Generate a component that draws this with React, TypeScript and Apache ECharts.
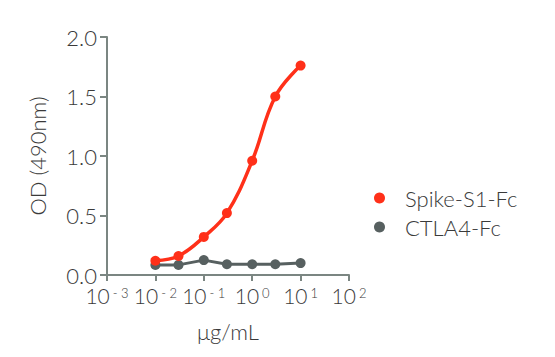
import React, { useEffect, useRef } from "react";
import * as echarts from "echarts";

const concentrations = [0.01, 0.03, 0.1, 0.3, 1, 3, 10];
const spikeValues = [0.12, 0.16, 0.32, 0.52, 0.96, 1.5, 1.76];
const ctla4Values = [0.085, 0.085, 0.125, 0.09, 0.09, 0.09, 0.1];
const seriesNames = ["Spike-S1-Fc", "CTLA4-Fc"];
const yTicks = [0, 0.5, 1.0, 1.5, 2.0];

const FONT = "Lato";
const W = 300;
const AXIS = "#7b8682";
const TEXT = "#3a3a3a";

export default function App() {
  const ref = useRef<HTMLDivElement>(null);
  useEffect(() => {
    if (!ref.current) return;
    const chart = echarts.init(ref.current, undefined, { renderer: "svg" });
    chart.setOption({
      animation: false,
      textStyle: { fontFamily: FONT, fontWeight: W },
      grid: { left: 107, right: 206, top: 37, bottom: 82 },
      legend: {
        orient: "vertical",
        left: 369,
        top: 182,
        icon: "circle",
        itemWidth: 11,
        itemHeight: 11,
        itemGap: 7,
        textStyle: { fontFamily: FONT, fontWeight: W, fontSize: 22, color: TEXT, padding: [0, 0, 0, 15] },
        data: seriesNames,
      },
      xAxis: {
        type: "log",
        logBase: 10,
        min: 0.001,
        max: 100,
        name: "μg/mL",
        nameLocation: "middle",
        nameGap: 45,
        nameTextStyle: { fontFamily: FONT, fontWeight: W, fontSize: 22, color: TEXT },
        axisLine: { lineStyle: { color: AXIS, width: 2 } },
        axisTick: { show: true, length: 6, lineStyle: { color: AXIS, width: 2 } },
        minorTick: { show: false },
        splitLine: { show: false },
        axisLabel: {
          margin: 11,
          formatter: (v: number) => {
            const e = Math.round(Math.log10(v));
            return "{b|10}{s|" + (e < 0 ? "- " + -e : String(e)) + "}";
          },
          rich: {
            b: { fontFamily: FONT, fontWeight: W, fontSize: 21, color: TEXT, verticalAlign: "bottom", lineHeight: 20 },
            s: { fontFamily: FONT, fontWeight: W, fontSize: 13, color: TEXT, verticalAlign: "top", lineHeight: 20, padding: [0, 0, 0, 3] },
          },
        },
      },
      yAxis: {
        type: "value",
        min: 0,
        max: 2,
        interval: 0.5,
        name: "OD (490nm)",
        nameLocation: "middle",
        nameGap: 55,
        nameRotate: 90,
        nameTextStyle: { fontFamily: FONT, fontWeight: W, fontSize: 22, color: TEXT, padding: [0, 0, 4, 0] },
        axisLine: { show: true, lineStyle: { color: AXIS, width: 2 } },
        axisTick: { show: true, length: 7, lineStyle: { color: AXIS, width: 2 } },
        splitLine: { show: false },
        axisLabel: {
          margin: 10,
          fontFamily: FONT,
          fontWeight: W,
          fontSize: 22,
          lineHeight: 16,
          color: TEXT,
          formatter: (v: number) => (yTicks.includes(v) ? v.toFixed(1) : ""),
        },
      },
      series: [
        {
          name: seriesNames[0],
          type: "line",
          smooth: 0.4,
          symbol: "circle",
          symbolSize: 10,
          itemStyle: { color: "#ff3019" },
          lineStyle: { color: "#ff3019", width: 3.5 },
          data: concentrations.map((c, i) => [c, spikeValues[i]]),
          z: 3,
        },
        {
          name: seriesNames[1],
          type: "line",
          symbol: "circle",
          symbolSize: 10,
          itemStyle: { color: "#576060" },
          lineStyle: { color: "#576060", width: 3 },
          data: concentrations.map((c, i) => [c, ctla4Values[i]]),
          z: 2,
        },
      ],
    });
    return () => chart.dispose();
  }, []);
  return <div ref={ref} style={{ width: 555, height: 357, position: "absolute", left: 0, top: 0 }} />;
}
